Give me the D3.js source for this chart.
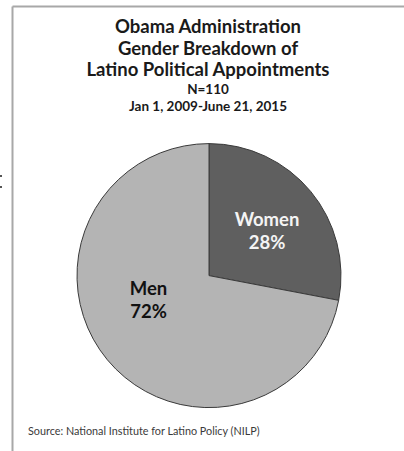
<!DOCTYPE html>
<html>
<head>
<meta charset="utf-8">
<script src="https://cdn.jsdelivr.net/npm/d3@7/dist/d3.min.js"></script>
<style>
  html, body { margin: 0; padding: 0; background: #fff; }
  svg { display: block; }
  text { font-family: Lato, "Open Sans", sans-serif; }
</style>
</head>
<body>
<svg id="chart" width="404" height="451"></svg>
<script>
// ---- data ----
const categories = ["Women", "Men"];
const values = [28, 72];
const titleLines = ["Obama Administration", "Gender Breakdown of", "Latino Political Appointments"];
const subtitleLines = ["N=110", "Jan 1, 2009-June 21, 2015"];
const sourceText = "Source: National Institute for Latino Policy (NILP)";

// ---- drawing ----
const svg = d3.select("#chart");
const W = 404, H = 451;

// frame
svg.append("line").attr("x1", 12.5).attr("y1", 6.5).attr("x2", 404).attr("y2", 6.5)
  .attr("stroke", "#a8a8a8").attr("stroke-width", 2);
svg.append("line").attr("x1", 12.5).attr("y1", 6.5).attr("x2", 12.5).attr("y2", H)
  .attr("stroke", "#a8a8a8").attr("stroke-width", 2);
// tiny cropped marks at left edge
svg.append("rect").attr("x", 0).attr("y", 175).attr("width", 2).attr("height", 2).attr("fill", "#555");
svg.append("rect").attr("x", 0).attr("y", 186).attr("width", 2).attr("height", 2).attr("fill", "#555");

// titles
const titleY = [33, 55, 76];
svg.selectAll("text.title").data(titleLines).enter().append("text")
  .attr("class", "title")
  .attr("x", 208).attr("y", (d, i) => titleY[i])
  .attr("text-anchor", "middle")
  .attr("font-weight", "bold").attr("font-size", 18.5)
  .attr("fill", "#1a1a1a")
  .text(d => d);
const subY = [93.5, 110.5];
svg.selectAll("text.sub").data(subtitleLines).enter().append("text")
  .attr("class", "sub")
  .attr("x", 208).attr("y", (d, i) => subY[i])
  .attr("text-anchor", "middle")
  .attr("font-weight", "bold").attr("font-size", 13.5)
  .attr("fill", "#1a1a1a")
  .text(d => d);

// pie
const cx = 209, cy = 275.6, r = 132;
const color = d3.scaleOrdinal().domain(categories).range(["#5f5f5f", "#b4b4b4"]);
const pie = d3.pie().sort(null).value(d => d.value);
const data = categories.map((c, i) => ({ cat: c, value: values[i] }));
const arcs = pie(data);
const arc = d3.arc().innerRadius(0).outerRadius(r);
const g = svg.append("g").attr("transform", `translate(${cx},${cy})`);
g.selectAll("path").data(arcs).enter().append("path")
  .attr("d", arc)
  .attr("fill", d => color(d.data.cat))
  .attr("stroke", "#3a3a3a").attr("stroke-width", 1);

// labels (offset of first baseline relative to pie centre, Excel "best fit" placement)
const labelOffset = { Women: [58, -50], Men: [-60.5, 19.5] };
const labelColors = { Women: "#f4f4f4", Men: "#111" };
const lab = g.selectAll("g.lab").data(arcs).enter().append("g").attr("class", "lab")
  .attr("transform", d => `translate(${labelOffset[d.data.cat][0]},${labelOffset[d.data.cat][1]})`);
lab.append("text").attr("text-anchor", "middle").attr("y", 0)
  .attr("font-weight", "bold").attr("font-size", 18.5)
  .attr("fill", d => labelColors[d.data.cat])
  .text(d => d.data.cat);
lab.append("text").attr("text-anchor", "middle").attr("y", 23)
  .attr("font-weight", "bold").attr("font-size", 18.5)
  .attr("fill", d => labelColors[d.data.cat])
  .text(d => Math.round(d.value) + "%");

// source
svg.append("text").attr("x", 28).attr("y", 435)
  .attr("font-size", 10.8).attr("fill", "#3a3a3a")
  .text(sourceText);
</script>
</body>
</html>
